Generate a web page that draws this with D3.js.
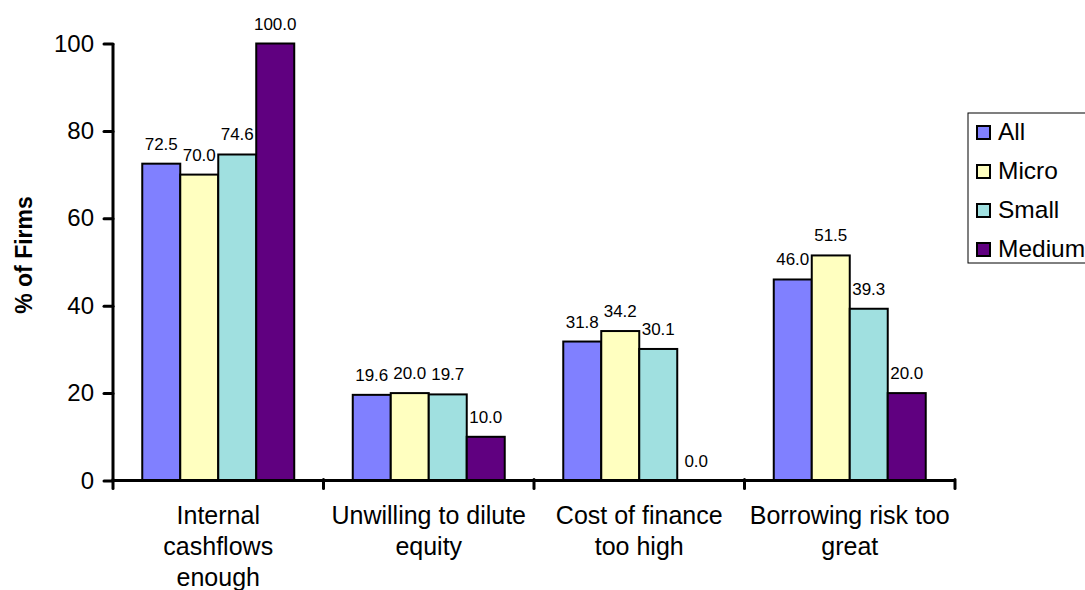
<!DOCTYPE html>
<html>
<head>
<meta charset="utf-8">
<script src="https://cdn.jsdelivr.net/npm/d3@7"></script>
<style>
  html, body { margin: 0; padding: 0; background: #fff; }
  svg { display: block; font-family: Arial, "Liberation Sans", sans-serif; }
</style>
</head>
<body>
<svg id="chart" width="1085" height="590"></svg>
<script>
// Reasons firms give for not seeking external finance, by firm size
const categories = [
  ["Internal", "cashflows", "enough"],
  ["Unwilling to dilute", "equity"],
  ["Cost of finance", "too high"],
  ["Borrowing risk too", "great"]
];
const seriesNames = ["All", "Micro", "Small", "Medium"];
const seriesColors = ["#8080FF", "#FFFFC0", "#A0E0E0", "#600080"];
const allValues    = [72.5, 19.6, 31.8, 46.0];
const microValues  = [70.0, 20.0, 34.2, 51.5];
const smallValues  = [74.6, 19.7, 30.1, 39.3];
const mediumValues = [100.0, 10.0, 0.0, 20.0];
const yTicks = [0, 20, 40, 60, 80, 100];
const yTitle = "% of Firms";

const seriesValues = [allValues, microValues, smallValues, mediumValues];
const catKeys = categories.map((c, i) => i);

const svg = d3.select("#chart");
const plot = { left: 113, right: 955, top: 43.5, bottom: 480.5 };

const x0 = d3.scaleBand()
  .domain(catKeys)
  .range([plot.left, plot.right])
  .paddingInner(0.278)
  .paddingOuter(0.139);

const x1 = d3.scaleBand()
  .domain(seriesNames)
  .range([0, x0.bandwidth()]);

const y = d3.scaleLinear()
  .domain([0, 100])
  .range([plot.bottom, plot.top]);

// Bars
const groups = svg.append("g")
  .selectAll("g")
  .data(catKeys)
  .join("g")
  .attr("transform", d => `translate(${x0(d)},0)`);

groups.selectAll("rect")
  .data(ci => seriesNames.map((s, si) => ({ s, si, v: seriesValues[si][ci] })))
  .join("rect")
  .filter(d => d.v > 0)
  .attr("x", d => x1(d.s))
  .attr("y", d => y(d.v))
  .attr("width", x1.bandwidth())
  .attr("height", d => y(0) - y(d.v))
  .attr("fill", d => seriesColors[d.si])
  .attr("stroke", "#000")
  .attr("stroke-width", 2);

// Value labels
groups.selectAll("text.val")
  .data(ci => seriesNames.map((s, si) => ({ s, si, v: seriesValues[si][ci] })))
  .join("text")
  .attr("class", "val")
  .attr("x", d => x1(d.s) + x1.bandwidth() / 2)
  .attr("y", d => y(d.v) - 14)
  .attr("text-anchor", "middle")
  .attr("font-size", 17)
  .attr("fill", "#000")
  .text(d => d.v.toFixed(1));

// Y axis
const yAxis = svg.append("g")
  .attr("transform", `translate(${plot.left},0)`)
  .call(d3.axisLeft(y).tickValues(yTicks).tickSize(9).tickPadding(10).tickFormat(d3.format("d")));
yAxis.select(".domain").attr("stroke", "#000").attr("stroke-width", 3)
  .attr("d", `M0,${plot.top}V${plot.bottom}`);
yAxis.selectAll(".tick line").attr("stroke", "#000").attr("stroke-width", 3).attr("stroke-linecap", "round");
yAxis.selectAll(".tick text").attr("font-size", 24).attr("fill", "#000")
  .attr("font-family", "Arial, 'Liberation Sans', sans-serif");

// X axis with ticks on category boundaries
const xAxis = svg.append("g").attr("transform", `translate(0,${plot.bottom})`);
xAxis.append("line")
  .attr("x1", plot.left).attr("x2", plot.right)
  .attr("stroke", "#000").attr("stroke-width", 3);
const bounds = catKeys.map(k => x0(k) - x0.step() * x0.paddingOuter()).concat([plot.right]);
xAxis.selectAll("line.tk")
  .data(bounds)
  .join("line")
  .attr("class", "tk")
  .attr("x1", d => d).attr("x2", d => d)
  .attr("y1", -1).attr("y2", 8)
  .attr("stroke", "#000").attr("stroke-width", 3).attr("stroke-linecap", "round");

// Category labels, one tspan per line
const catText = svg.append("g").selectAll("text")
  .data(catKeys)
  .join("text")
  .attr("text-anchor", "middle")
  .attr("font-size", 25)
  .attr("fill", "#000")
  .attr("x", d => x0(d) + x0.bandwidth() / 2)
  .attr("y", 524);
catText.selectAll("tspan")
  .data(d => categories[d])
  .join("tspan")
  .attr("x", function() { return this.parentNode.getAttribute("x"); })
  .attr("dy", (d, i) => i === 0 ? 0 : 31)
  .text(d => d);

// Y axis title
svg.append("text")
  .attr("transform", `translate(32,${(plot.top + plot.bottom) / 2 - 7}) rotate(-90)`)
  .attr("text-anchor", "middle")
  .attr("font-size", 23)
  .attr("font-weight", "bold")
  .attr("fill", "#000")
  .text(yTitle);

// Legend
const legend = svg.append("g").attr("transform", "translate(968,113)");
legend.append("rect")
  .attr("x", 0).attr("y", 0).attr("width", 140).attr("height", 150)
  .attr("fill", "#fff").attr("stroke", "#000").attr("stroke-width", 1);
const items = legend.selectAll("g.item")
  .data(seriesNames)
  .join("g")
  .attr("class", "item")
  .attr("transform", (d, i) => `translate(9,${19 + i * 39})`);
items.append("rect")
  .attr("x", 0).attr("y", -6).attr("width", 13).attr("height", 13)
  .attr("fill", (d, i) => seriesColors[i])
  .attr("stroke", "#000").attr("stroke-width", 2);
items.append("text")
  .attr("x", 21).attr("y", 8)
  .attr("font-size", 24.5)
  .attr("fill", "#000")
  .text(d => d);
</script>
</body>
</html>
